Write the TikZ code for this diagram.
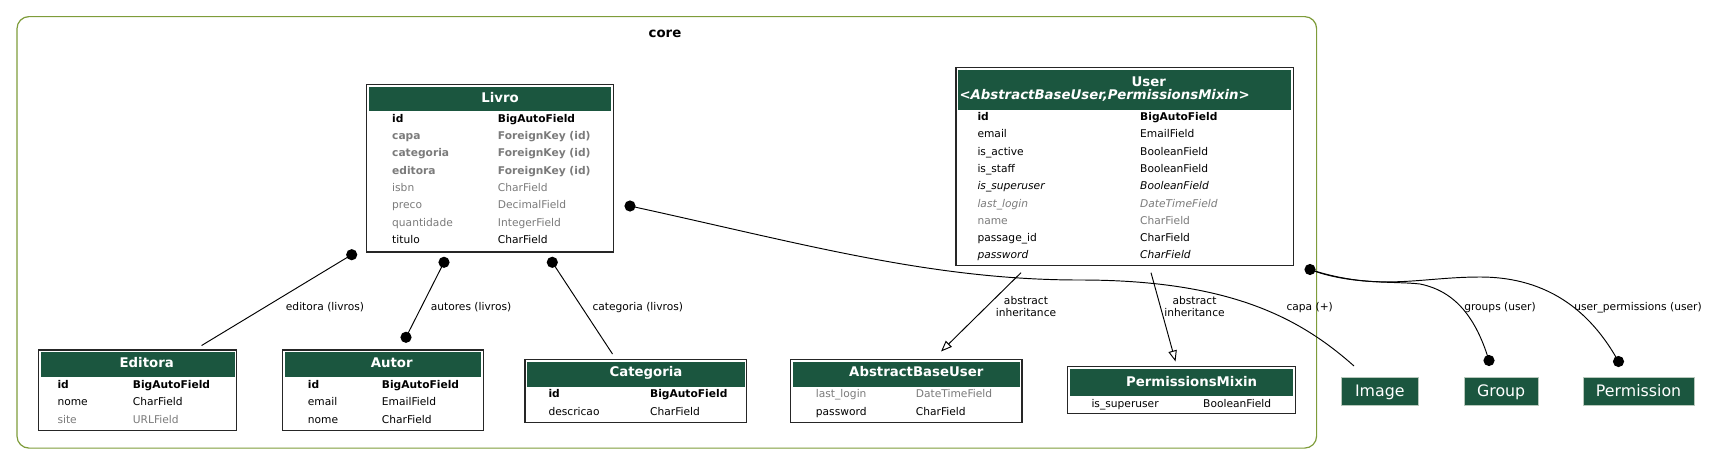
\documentclass[tikz,border=0pt]{standalone}
\usepackage{fontspec}
\setmainfont{DejaVu Sans}
\usetikzlibrary{arrows.meta}
\definecolor{hdr}{HTML}{1B563F}
\definecolor{gry}{HTML}{7B7B7B}
\definecolor{olivec}{HTML}{7E9C3A}
\definecolor{extedge}{HTML}{B8C8BC}
\newcommand\fs{\fontsize{10.67}{12}\selectfont}
\newcommand\ts{\fontsize{13.3}{15}\selectfont}
\tikzset{
  tbl/.style={draw=black!85, line width=1.1pt, fill=white, inner sep=0pt, outer sep=0pt},
  fld/.style={anchor=base west, inner sep=0pt, font=\fs},
  pk/.style={font=\fs\bfseries},
  fkg/.style={font=\fs\bfseries, text=gry},
  gr/.style={text=gry},
  it/.style={font=\fs\itshape},
  git/.style={font=\fs\itshape, text=gry},
  pl/.style={},
  ttl/.style={anchor=base, inner sep=0pt, font=\ts\bfseries, text=white},
  elbl/.style={inner sep=0pt, font=\fs, align=center},
  ext/.style={fill=hdr, draw=extedge, line width=0.6pt, inner sep=0pt, anchor=north west},
  extlbl/.style={anchor=base, inner sep=0pt, text=white, font=\fontsize{15.8}{18}\selectfont},
  conn/.style={draw=black, line width=0.95pt},
  dotend/.style={fill=black},
  inh/.style={conn, -{Triangle[open, length=11pt, width=8.5pt, fill=white]}},
}
\newcommand\tablebox[6]{%
  \node[tbl, anchor=north west, minimum width=#4pt, minimum height=#5pt] (#1) at (#2,#3) {};
  \fill[hdr] (#2+2.2,#3+2.2) rectangle (#2+#4-2.2,#6);
}
\newcommand\fieldrow[7]{%
  \node[fld,#5] (#1n) at (#2,#4+3.8) {#6};
  \node[fld,#5] (#1t) at (#3,#4+3.8) {#7};
}
\begin{document}
\begin{tikzpicture}[x=1pt,y=-1pt]
\useasboundingbox (0,0) rectangle (1715,464);
% cluster
\node[draw=olivec, line width=1.2pt, rounded corners=12pt, anchor=north west,
      minimum width=1299.6pt, minimum height=431.5pt, inner sep=0pt] (core) at (16.4,16) {};
\node[font=\ts\bfseries, anchor=base, inner sep=0pt] (corelbl) at (665,37.4) {core};

% Livro
\tablebox{livro}{366.7}{84.5}{246.8}{167.5}{110.5}
\node[ttl] (livrottl) at (500,102.6) {Livro};
\fieldrow{lv1}{392}{497.7}{118.3}{pk}{id}{BigAutoField}
\fieldrow{lv2}{392}{497.7}{135.7}{fkg}{capa}{ForeignKey (id)}
\fieldrow{lv3}{392}{497.7}{153.0}{fkg}{categoria}{ForeignKey (id)}
\fieldrow{lv4}{392}{497.7}{170.4}{fkg}{editora}{ForeignKey (id)}
\fieldrow{lv5}{392}{497.7}{187.7}{gr}{isbn}{CharField}
\fieldrow{lv6}{392}{497.7}{205.1}{gr}{preco}{DecimalField}
\fieldrow{lv7}{392}{497.7}{222.4}{gr}{quantidade}{IntegerField}
\fieldrow{lv8}{392}{497.7}{239.8}{pl}{titulo}{CharField}

% User
\tablebox{user}{956}{67.3}{337.5}{198.4}{109.5}
\node[ttl] (userttl) at (1148.8,86.6) {User};
\node[ttl, anchor=base west, font=\ts\bfseries\itshape] (usersub) at (959.3,99.9) {\textless AbstractBaseUser,PermissionsMixin\textgreater};
\fieldrow{us1}{977.3}{1140}{116.7}{pk}{id}{BigAutoField}
\fieldrow{us2}{977.3}{1140}{134.0}{pl}{email}{EmailField}
\fieldrow{us3}{977.3}{1140}{151.3}{pl}{is\_active}{BooleanField}
\fieldrow{us4}{977.3}{1140}{168.6}{pl}{is\_staff}{BooleanField}
\fieldrow{us5}{977.3}{1140}{185.9}{it}{is\_superuser}{BooleanField}
\fieldrow{us6}{977.3}{1140}{203.2}{git}{last\_login}{DateTimeField}
\fieldrow{us7}{977.3}{1140}{220.5}{gr}{name}{CharField}
\fieldrow{us8}{977.3}{1140}{237.8}{pl}{passage\_id}{CharField}
\fieldrow{us9}{977.3}{1140}{255.1}{it}{password}{CharField}

% Editora
\tablebox{editora}{38.3}{350}{198.4}{80.7}{377.3}
\node[ttl] (editorattl) at (146.7,367.6) {Editora};
\fieldrow{ed1}{57.3}{132.7}{384.3}{pk}{id}{BigAutoField}
\fieldrow{ed2}{57.3}{132.7}{401.8}{pl}{nome}{CharField}
\fieldrow{ed3}{57.3}{132.7}{419.3}{gr}{site}{URLField}

% Autor
\tablebox{autor}{282.3}{350}{201}{80.7}{377.3}
\node[ttl] (autorttl) at (391.7,367.6) {Autor};
\fieldrow{au1}{307.7}{381.7}{384.3}{pk}{id}{BigAutoField}
\fieldrow{au2}{307.7}{381.7}{401.8}{pl}{email}{EmailField}
\fieldrow{au3}{307.7}{381.7}{419.3}{pl}{nome}{CharField}

% Categoria
\tablebox{categoria}{525}{359.3}{221.7}{63.4}{387.3}
\node[ttl] (categoriattl) at (646,376.6) {Categoria};
\fieldrow{ca1}{548.3}{650}{394}{pk}{id}{BigAutoField}
\fieldrow{ca2}{548.3}{650}{411.6}{pl}{descricao}{CharField}

% AbstractBaseUser
\tablebox{abu}{790.7}{359.3}{231.3}{63.4}{387.3}
\node[ttl] (abuttl) at (916.3,376.6) {AbstractBaseUser};
\fieldrow{ab1}{815.7}{915.7}{394}{gr}{last\_login}{DateTimeField}
\fieldrow{ab2}{815.7}{915.7}{411.6}{pl}{password}{CharField}

% PermissionsMixin
\tablebox{pm}{1067.5}{366.5}{228}{47}{396}
\node[ttl] (pmttl) at (1191.6,386.9) {PermissionsMixin};
\fieldrow{pm1}{1091.3}{1203}{404}{pl}{is\_superuser}{BooleanField}

% external nodes
\node[ext, minimum width=77pt, minimum height=27.4pt] (image) at (1341,377.4) {};
\node[extlbl] (imagelbl) at (image.center |- 0,396.8) {Image};
\node[ext, minimum width=74.3pt, minimum height=27.4pt] (group) at (1463.7,377.4) {};
\node[extlbl] (grouplbl) at (group.center |- 0,396.8) {Group};
\node[ext, minimum width=110.5pt, minimum height=27.4pt] (permission) at (1583,377.4) {};
\node[extlbl] (permissionlbl) at (permission.center |- 0,396.8) {Permission};

% connector end points
\coordinate (e-lv) at (351.7,254.7);
\coordinate (e-ed) at (201.6,345.5);
\coordinate (a-lv) at (444,262.3);
\coordinate (a-au) at (406,337.3);
\coordinate (c-lv) at (552.3,262.3);
\coordinate (c-ca) at (612.5,354);
\coordinate (p-lv) at (630,206);
\coordinate (p-im) at (1354,366);
\coordinate (u-us) at (1310,269.5);
\coordinate (g-gr) at (1489,360.5);
\coordinate (u-pe) at (1618.5,361.5);
\coordinate (i1-us) at (1021,272.7);
\coordinate (i1-ab) at (941,351.5);
\coordinate (i2-us) at (1151,272.7);
\coordinate (i2-pm) at (1175.5,361.5);

% connectors
\draw[conn] (e-lv) -- (e-ed);
\draw[conn] (a-lv) -- (a-au);
\draw[conn] (c-lv) -- (c-ca);
\draw[conn] (p-lv) .. controls (800,243) and (930,280) .. (1080,280)
                   .. controls (1230,280) and (1300,318) .. (p-im);
\draw[conn] (u-us) .. controls (1350,285) and (1395,281) .. (1420,284)
                   .. controls (1460,292) and (1478,325) .. (g-gr);
\draw[conn] (u-us) .. controls (1380,292) and (1420,277) .. (1480,277)
                   .. controls (1560,277) and (1598,325) .. (u-pe);
\draw[inh] (i1-us) -- (i1-ab);
\draw[inh] (i2-us) -- (i2-pm);
\foreach \d in {e-lv,a-lv,a-au,c-lv,p-lv,u-us,g-gr,u-pe}
  \fill[dotend] (\d) circle (5.6);

% edge labels
\node[elbl] (l-ed) at (325,307.5) {editora (livros)};
\node[elbl] (l-au) at (471,307.3) {autores (livros)};
\node[elbl] (l-ca) at (637.8,307.3) {categoria (livros)};
\node[elbl] (l-i1) at (1026,306.9) {abstract\\inheritance};
\node[elbl] (l-i2) at (1194.5,306.9) {abstract\\inheritance};
\node[elbl] (l-capa) at (1309.7,307.3) {capa (+)};
\node[elbl] (l-gr) at (1500,307.3) {groups (user)};
\node[elbl] (l-up) at (1638,307.3) {user\_permissions (user)};
\end{tikzpicture}
\end{document}
